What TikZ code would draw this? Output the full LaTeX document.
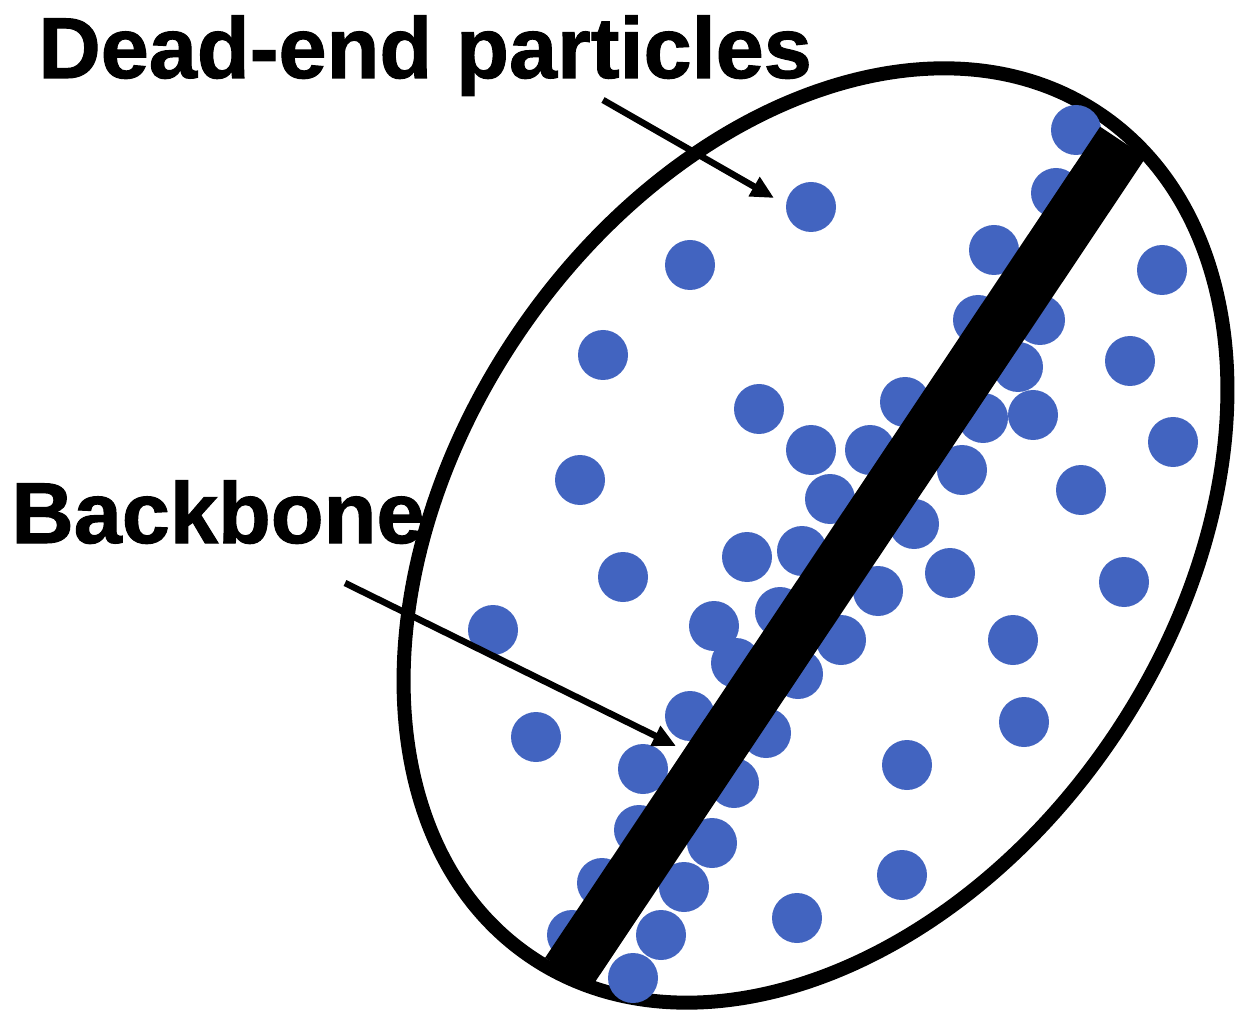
\documentclass[tikz,border=0pt]{standalone}
\usepackage{fontspec}
\setmainfont{Liberation Sans}
\newfontfamily\labelfont[FakeBold=1.2]{Liberation Sans Bold}
\usepackage{xcolor}
\definecolor{dotblue}{HTML}{4264C0}
\usepackage{tikz}
\usetikzlibrary{arrows.meta}

\begin{document}
\begin{tikzpicture}[x=0.2mm,y=-0.2mm,
  particle/.style={fill=dotblue},
  rim/.style={draw=black,line width=0.28cm},
  backbone/.style={black,line width=1.1cm,line cap=butt},
  pointer/.style={black,line width=0.13cm,-{Triangle[length=0.46cm,width=0.42cm]}},
  lbl/.style={font=\fontsize{49.2}{58}\selectfont\labelfont,inner sep=0pt,anchor=base west}]
  \useasboundingbox (0,0) rectangle (1246,1015);

  % --- Cluster outline ---
  \draw[rim,rotate around={56:(815.5,535.5)}] (815.5,535.5)
    ellipse [x radius=10.17cm,y radius=7.19cm];

  % --- Particles ---
  \foreach \px/\py in {1076/130,1056/193,811/207,690/265,994/250,1162/270,
      603/355,978/320,1040/320,1018/367,1130/361,759/409,905/402,983/418,
      1033/415,1173/442,580/480,811/450,870/450,962/470,
      1081/490,830/499,914/524,747/557,802/551,623/577,950/573,878/591,
      1124/582,493/630,714/626,780/612,841/640,1013/640,736/663,798/674,
      690/716,1024/722,536/737,766/733,643/769,907/765,734/783,639/830,
      712/843,602/883,684/887,902/875,797/918,661/935,572/935,633/978}
    \fill[particle] (\px,\py) circle [radius=0.5cm];

  % --- Backbone bar ---
  \draw[backbone] (1123,142) -- (568,973);

  % --- Labels and pointers ---
  \node[lbl] (deadlbl) at (38,78) {Dead-end particles};
  \node[lbl] (bonelbl) at (11,543) {Backbone};
  \coordinate (deadtail) at (603,100);
  \coordinate (deadtip) at (774,198);
  \coordinate (bonetail) at (345,583);
  \coordinate (bonetip) at (676,746);
  \draw[pointer] (deadtail) -- (deadtip);
  \draw[pointer] (bonetail) -- (bonetip);
\end{tikzpicture}
\end{document}
